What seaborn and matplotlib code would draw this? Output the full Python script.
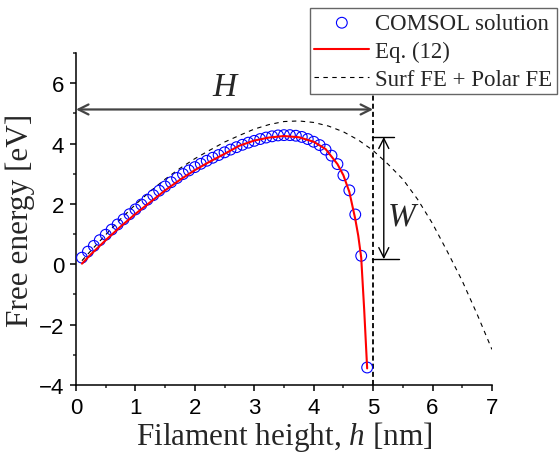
import numpy as np
import pandas as pd
import seaborn as sns
import matplotlib.pyplot as plt
from matplotlib.ticker import MultipleLocator

# COMSOL points (h in nm, free energy in eV)
comsol_h = [0.1, 0.2, 0.3, 0.4, 0.5, 0.6, 0.7, 0.8, 0.9, 1.0,
            1.1, 1.2, 1.3, 1.4, 1.5, 1.6, 1.7, 1.8, 1.9, 2.0,
            2.1, 2.2, 2.3, 2.4, 2.5, 2.6, 2.7, 2.8, 2.9, 3.0,
            3.1, 3.2, 3.3, 3.4, 3.5, 3.6, 3.7, 3.8, 3.9, 4.0,
            4.1, 4.2, 4.3, 4.4, 4.5, 4.6, 4.7, 4.8, 4.9]
comsol_fe = [0.22, 0.42, 0.61, 0.80, 0.98, 1.15, 1.32, 1.49, 1.66, 1.82,
             1.98, 2.14, 2.29, 2.44, 2.58, 2.72, 2.86, 2.99, 3.11, 3.22,
             3.33, 3.43, 3.53, 3.62, 3.71, 3.80, 3.88, 3.96, 4.03, 4.09,
             4.15, 4.20, 4.24, 4.27, 4.28, 4.28, 4.26, 4.22, 4.15, 4.06,
             3.95, 3.80, 3.60, 3.32, 2.95, 2.45, 1.65, 0.28, -3.42]

# Eq. (12)
eq_h = [0.1, 0.25, 0.5, 0.75, 1.0, 1.25, 1.5, 1.75, 2.0, 2.25, 2.5, 2.75,
        3.0, 3.25, 3.5, 3.75, 4.0, 4.2, 4.4, 4.5, 4.6, 4.7, 4.75, 4.8,
        4.85, 4.9]
eq_fe = [0.02, 0.33, 0.80, 1.25, 1.67, 2.06, 2.45, 2.80, 3.12, 3.40, 3.66, 3.93,
         4.10, 4.20, 4.25, 4.21, 4.06, 3.82, 3.32, 2.95, 2.40, 1.50, 0.95, 0.22,
         -1.50, -3.45]

# Surf FE + Polar FE
sp_h = [0.1, 0.25, 0.5, 0.75, 1.0, 1.25, 1.5, 1.75, 2.0, 2.25, 2.5, 2.75,
        3.0, 3.25, 3.5, 3.75, 4.0, 4.25, 4.5, 4.75, 5.0, 5.25, 5.5, 5.75,
        6.0, 6.25, 6.5, 6.75, 7.0]
sp_fe = [0.12, 0.45, 0.98, 1.50, 1.98, 2.42, 2.82, 3.18, 3.50, 3.78, 4.05, 4.27,
         4.48, 4.63, 4.73, 4.75, 4.70, 4.58, 4.39, 4.12, 3.77, 3.32, 2.82, 2.15,
         1.35, 0.42, -0.55, -1.65, -2.82]

# critical height and barrier markers
H_crit = 5.0
H_arrow_y = 5.13
W_top, W_bottom = 4.22, 0.17
W_x = 5.18

df_c = pd.DataFrame({"h": comsol_h, "fe": comsol_fe})
df_e = pd.DataFrame({"h": eq_h, "fe": eq_fe})
df_s = pd.DataFrame({"h": sp_h, "fe": sp_fe})

sns.set_theme(style="ticks")
plt.rcParams["font.family"] = ["Liberation Sans", "DejaVu Sans"]
plt.rcParams["mathtext.fontset"] = "custom"
plt.rcParams["mathtext.rm"] = "Liberation Serif"
plt.rcParams["mathtext.it"] = "Liberation Serif:italic"

fig = plt.figure(figsize=(5.59, 4.56), dpi=100)
ax = fig.add_axes([0.136, 0.1535, 0.744, 0.728])

sns.scatterplot(data=df_c, x="h", y="fe", ax=ax, marker="o", s=60,
                facecolor="none", edgecolor="blue", linewidth=0.8,
                label="COMSOL solution", zorder=3)
sns.lineplot(data=df_e, x="h", y="fe", ax=ax, color="red", lw=1.5,
             label="Eq. (12)", zorder=4)
sns.lineplot(data=df_s, x="h", y="fe", ax=ax, color="black", lw=0.8,
             linestyle=(0, (4, 4)), label="Surf FE + Polar FE", zorder=2)

# vertical line at critical height
ax.axvline(H_crit, color="black", lw=1.3, linestyle=(0, (2.8, 1.7)), zorder=1)

# H arrow
ax.annotate("", xy=(0, H_arrow_y), xytext=(H_crit, H_arrow_y),
            arrowprops=dict(arrowstyle="<->", color="#444444", lw=1.6,
                            shrinkA=0, shrinkB=0, mutation_scale=18))
ax.text(2.5, 5.87, "H", fontsize=24, family="Liberation Serif",
        style="italic", ha="center", va="center")

# W arrow
ax.annotate("", xy=(W_x, W_top), xytext=(W_x, W_bottom),
            arrowprops=dict(arrowstyle="<->", color="black", lw=1.0,
                            shrinkA=0, shrinkB=0, mutation_scale=18))
ax.plot([4.98, 5.36], [W_top, W_top], color="black", lw=1.0)
ax.plot([4.98, 5.43], [W_bottom, W_bottom], color="black", lw=1.0)
ax.text(5.48, 1.6, "W", fontsize=24, family="Liberation Serif",
        style="italic", ha="center", va="center")

ax.set_xlim(0, 7)
ax.set_ylim(-4, 7)
ax.set_yticks([-4, -2, 0, 2, 4, 6])
ax.xaxis.set_major_locator(MultipleLocator(1))
ax.xaxis.set_minor_locator(MultipleLocator(0.5))
ax.yaxis.set_minor_locator(MultipleLocator(1))
ax.tick_params(which="major", direction="out", length=4.5, width=1.1,
               labelsize=16, pad=4, colors="black")
ax.tick_params(which="minor", direction="out", length=2.5, width=1.1)
for side in ["top", "right"]:
    ax.spines[side].set_visible(False)
for side in ["left", "bottom"]:
    ax.spines[side].set_linewidth(1.1)
    ax.spines[side].set_color("black")

ax.set_xlabel("Filament height, $h$ [nm]", fontsize=22.5,
              family="Liberation Serif", labelpad=1)
ax.set_ylabel("Free energy [eV]", fontsize=22.5,
              family="Liberation Serif", labelpad=3)

leg = ax.legend(loc="upper right", bbox_to_anchor=(0.996, 0.98),
                bbox_transform=fig.transFigure, frameon=True, fancybox=False,
                edgecolor="#666666", framealpha=1,
                prop={"family": "Liberation Serif", "size": 16.5},
                handlelength=2.4, handletextpad=0.25, labelspacing=0.3,
                borderpad=0.2, borderaxespad=0)
leg.get_frame().set_linewidth(1.0)

fig.savefig("out.png", dpi=100)
